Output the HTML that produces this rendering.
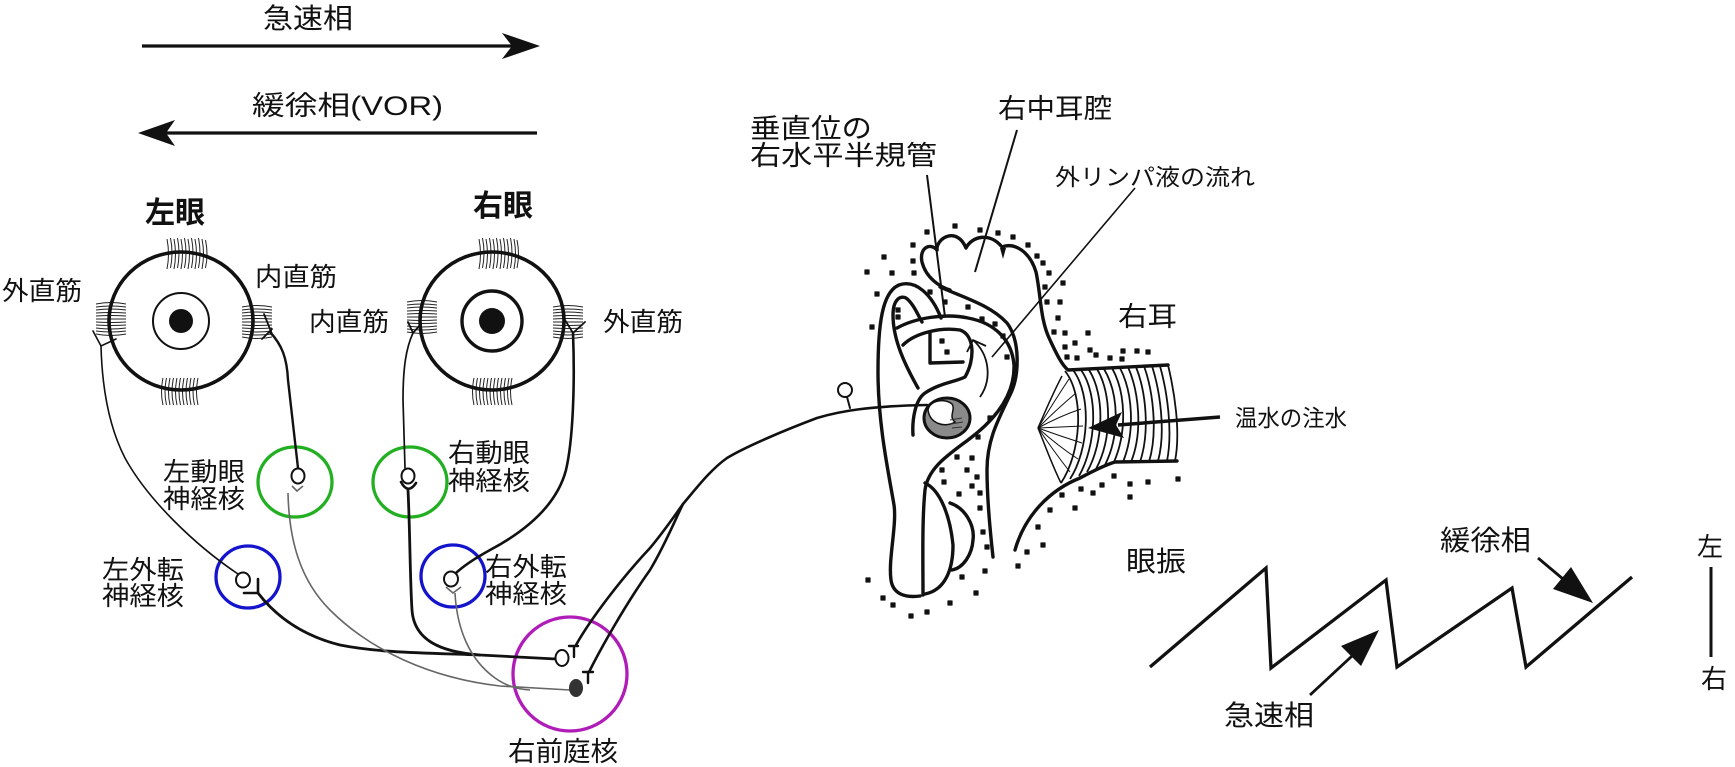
<!DOCTYPE html>
<html><head><meta charset="utf-8"><style>
html,body{margin:0;padding:0;background:#fff;}
svg{display:block;}
text{font-family:"Liberation Sans","Noto Sans CJK JP",sans-serif;fill:#111;}
</style></head><body>
<svg width="1735" height="767" viewBox="0 0 1735 767" xmlns="http://www.w3.org/2000/svg">
<rect width="1735" height="767" fill="#fff"/>

<!-- top arrows -->
<text x="263" y="28" font-size="28" textLength="90" lengthAdjust="spacingAndGlyphs">急速相</text>
<line x1="142" y1="46" x2="512" y2="46" stroke="#111" stroke-width="3.3"/>
<polygon points="540,46 502,33 512,46 502,59" fill="#111"/>
<text x="252" y="115" font-size="27" textLength="191" lengthAdjust="spacingAndGlyphs">緩徐相(VOR)</text>
<line x1="166" y1="133" x2="537" y2="133" stroke="#111" stroke-width="3.3"/>
<polygon points="138,133 175,120 166,133 175,146" fill="#111"/>

<!-- eye labels -->
<text x="145" y="223" font-size="30" font-weight="bold" textLength="60" lengthAdjust="spacingAndGlyphs">左眼</text>
<text x="473" y="216" font-size="30" font-weight="bold" textLength="60" lengthAdjust="spacingAndGlyphs">右眼</text>
<text x="2" y="300" font-size="26" textLength="80" lengthAdjust="spacingAndGlyphs">外直筋</text>
<text x="255" y="286" font-size="26" textLength="82" lengthAdjust="spacingAndGlyphs">内直筋</text>
<text x="309" y="331" font-size="26" textLength="80" lengthAdjust="spacingAndGlyphs">内直筋</text>
<text x="603" y="331" font-size="26" textLength="80" lengthAdjust="spacingAndGlyphs">外直筋</text>

<!-- eyelashes -->
<g stroke="#222" stroke-width="1" fill="none">
<path d="M167,239q3,15 0,30M170.5,238q3,15 0,30M174,239q3,15 0,30M177.5,238q3,15 0,30M181,239q3,15 0,30M184.5,238q3,15 0,30M188,239q3,15 0,30M191.5,238q3,15 0,30M195,239q3,15 0,30M198.5,238q3,15 0,30M202,239q3,15 0,30M205.5,240q3,14 0,28"/>
<path d="M163,378q-3,14 0,27M166.5,378q-3,14 0,27M170,378q-3,14 0,27M173.5,378q-3,14 0,27M177,378q-3,14 0,27M180.5,378q-3,14 0,27M184,378q-3,14 0,27M187.5,378q-3,14 0,27M191,378q-3,14 0,27M194.5,378q-3,14 0,27M198,378q-3,14 0,27"/>
<path d="M96,304q15,-3 30,0M96,307q15,-2 30,0M96,310q15,-2 30,0M96,313q15,-1 30,0M96,316q15,-1 30,0M96,319q15,0 30,0M96,322q15,1 30,0M96,325q15,1 30,0M96,328q15,2 30,0M96,331q15,2 30,0M96,334q15,3 30,0"/>
<path d="M242,307q15,-3 30,0M242,310q15,-2 30,0M242,313q15,-2 30,0M242,316q15,-1 30,0M242,319q15,-1 30,0M242,322q15,0 30,0M242,325q15,1 30,0M242,328q15,1 30,0M242,331q15,2 30,0M242,334q15,2 30,0M242,337q15,3 30,0"/>
<path d="M479,239q3,15 0,30M482.5,238q3,15 0,30M486,239q3,15 0,30M489.5,238q3,15 0,30M493,239q3,15 0,30M496.5,238q3,15 0,30M500,239q3,15 0,30M503.5,238q3,15 0,30M507,239q3,15 0,30M510.5,238q3,15 0,30M514,239q3,15 0,30M517,240q3,14 0,28"/>
<path d="M474,378q-3,14 0,27M477.5,378q-3,14 0,27M481,378q-3,14 0,27M484.5,378q-3,14 0,27M488,378q-3,14 0,27M491.5,378q-3,14 0,27M495,378q-3,14 0,27M498.5,378q-3,14 0,27M502,378q-3,14 0,27M505.5,378q-3,14 0,27M509,378q-3,14 0,27M512,378q-3,14 0,27"/>
<path d="M407,302q15,-3 30,0M407,305q15,-2 30,0M407,308q15,-2 30,0M407,311q15,-1 30,0M407,314q15,-1 30,0M407,317q15,0 30,0M407,320q15,1 30,0M407,323q15,1 30,0M407,326q15,2 30,0M407,329q15,2 30,0M407,332q15,3 30,0"/>
<path d="M553,307q15,-3 30,0M553,310q15,-2 30,0M553,313q15,-2 30,0M553,316q15,-1 30,0M553,319q15,-1 30,0M553,322q15,0 30,0M553,325q15,1 30,0M553,328q15,1 30,0M553,331q15,2 30,0M553,334q15,2 30,0M553,337q15,3 30,0"/>
</g>

<!-- eyes -->
<ellipse cx="181" cy="321" rx="72" ry="69" fill="none" stroke="#111" stroke-width="3.6"/>
<circle cx="181" cy="321" r="28" fill="none" stroke="#111" stroke-width="2"/>
<circle cx="181" cy="321" r="12" fill="#111"/>
<ellipse cx="492" cy="321" rx="72" ry="69" fill="none" stroke="#111" stroke-width="3.6"/>
<circle cx="492" cy="321" r="30" fill="none" stroke="#111" stroke-width="3.4"/>
<circle cx="492" cy="321" r="13" fill="#111"/>

<!-- nuclei circles -->
<ellipse cx="295" cy="482" rx="37" ry="35" fill="none" stroke="#22b022" stroke-width="3.3"/>
<ellipse cx="410" cy="482" rx="37" ry="35" fill="none" stroke="#22b022" stroke-width="3.3"/>
<ellipse cx="248" cy="577" rx="32" ry="31" fill="none" stroke="#1414cc" stroke-width="3.3"/>
<ellipse cx="453" cy="576" rx="32" ry="31" fill="none" stroke="#1414cc" stroke-width="3.3"/>
<circle cx="570" cy="674" r="57" fill="none" stroke="#b01cb8" stroke-width="3.3"/>

<!-- nucleus labels -->
<text x="163" y="481" font-size="26" textLength="82" lengthAdjust="spacingAndGlyphs">左動眼</text>
<text x="163" y="508" font-size="26" textLength="82" lengthAdjust="spacingAndGlyphs">神経核</text>
<text x="448" y="462" font-size="26" textLength="82" lengthAdjust="spacingAndGlyphs">右動眼</text>
<text x="448" y="490" font-size="26" textLength="82" lengthAdjust="spacingAndGlyphs">神経核</text>
<text x="102" y="579" font-size="26" textLength="82" lengthAdjust="spacingAndGlyphs">左外転</text>
<text x="102" y="605" font-size="26" textLength="82" lengthAdjust="spacingAndGlyphs">神経核</text>
<text x="485" y="576" font-size="26" textLength="82" lengthAdjust="spacingAndGlyphs">右外転</text>
<text x="485" y="603" font-size="26" textLength="82" lengthAdjust="spacingAndGlyphs">神経核</text>
<text x="508" y="761" font-size="27" textLength="110" lengthAdjust="spacingAndGlyphs">右前庭核</text>

<!-- nerve lines -->
<g fill="none" stroke="#111" stroke-linecap="round">
<path d="M93,331 L101,346 L116,339" stroke-width="1.6"/>
<path d="M101,346 C102,385 108,425 125,458 C148,500 195,545 238,574" stroke-width="1.6"/>
<path d="M264,314 L272,334 M262,339 L272,329" stroke-width="1.8"/>
<path d="M270,332 C282,345 287,358 288,380 L298,468" stroke-width="2.4"/>
<path d="M408,322 L413,333 L420,325" stroke-width="1.8"/>
<path d="M413,333 C406,348 403,368 403,400 L405,468" stroke-width="1.7"/>
<path d="M565,320 L573,333 L585,322" stroke-width="1.8"/>
<path d="M573,333 C575,385 573,440 566,470 C556,508 522,533 490,550 C472,560 461,568 455,574" stroke-width="2.6"/>
<path d="M408,490 C410,530 410,580 412,610 C414,640 440,652 480,655 L556,659" stroke-width="2.8"/>
<path d="M258,593 C275,615 300,635 340,645 C380,653 430,653 480,655" stroke-width="2.8"/>
<path d="M244,593 L258,593 L258,579" stroke-width="2.6"/>
<path d="M401,482 Q408,495 416,483" stroke-width="2.6"/>
</g>
<g fill="none" stroke="#666" stroke-width="1.6">
<path d="M288,493 C289,540 300,580 330,610 C370,650 430,678 500,686 L570,690"/>
<path d="M455,593 C457,630 470,660 495,678 C505,685 515,689 530,690"/>
<path d="M292,486 L297,491 L303,486"/>
<path d="M446,587 L453,593 L461,587"/>
</g>
<ellipse cx="298" cy="476" rx="6.5" ry="7.5" fill="#fff" stroke="#111" stroke-width="2"/>
<ellipse cx="408" cy="476" rx="6.5" ry="7.5" fill="#fff" stroke="#111" stroke-width="2"/>
<ellipse cx="243" cy="580" rx="7" ry="7.5" fill="#fff" stroke="#111" stroke-width="2"/>
<ellipse cx="451" cy="579" rx="7" ry="7.5" fill="#fff" stroke="#111" stroke-width="2"/>
<ellipse cx="562" cy="658" rx="6.5" ry="8" fill="#fff" stroke="#111" stroke-width="2"/>
<ellipse cx="576" cy="688" rx="7" ry="9" fill="#333"/>

<!-- vestibular nerve to ear -->
<g fill="none" stroke="#111" stroke-width="2.6" stroke-linecap="round">
<path d="M576,645 C590,620 620,580 650,548 C665,530 675,515 683,504"/>
<path d="M589,672 C600,650 625,605 650,570 C665,545 675,520 683,504"/>
<path d="M683,504 C695,490 710,470 727,458 C745,447 785,430 817,418 C840,411 870,406 927,405"/>
<path d="M569,646 L578,646 M574,646 L574,657" stroke-width="2.4"/>
<path d="M583,672 L593,672 M588,672 L588,683" stroke-width="2.4"/>
<path d="M847,397 L850,408" stroke-width="2"/>
</g>
<circle cx="845" cy="390" r="7" fill="#fff" stroke="#111" stroke-width="2"/>

<!-- ear labels -->
<text x="750" y="138" font-size="27" textLength="122" lengthAdjust="spacingAndGlyphs">垂直位の</text>
<text x="750" y="165" font-size="27" textLength="187" lengthAdjust="spacingAndGlyphs">右水平半規管</text>
<text x="998" y="118" font-size="27" textLength="114" lengthAdjust="spacingAndGlyphs">右中耳腔</text>
<text x="1055" y="185" font-size="23" textLength="200" lengthAdjust="spacingAndGlyphs">外リンパ液の流れ</text>
<text x="1118" y="326" font-size="27" textLength="59" lengthAdjust="spacingAndGlyphs">右耳</text>
<text x="1235" y="426" font-size="23" textLength="112" lengthAdjust="spacingAndGlyphs">温水の注水</text>

<!-- leader lines -->
<g stroke="#111" fill="none">
<line x1="927" y1="175" x2="945" y2="317" stroke-width="2"/>
<line x1="1017" y1="130" x2="975" y2="272" stroke-width="2"/>
<line x1="1135" y1="188" x2="992" y2="357" stroke-width="1.6"/>
</g>

<!-- dots -->
<path fill="#111" stroke="#111" stroke-width="1.2" stroke-linejoin="round" d="M865,270h4v4h-4zM882,255h4v4h-4zM890,271h4v4h-4zM875,292h4v4h-4zM870,325h4v4h-4zM911,243h4v4h-4zM911,259h4v4h-4zM912,271h4v4h-4zM925,230h4v4h-4zM953,224h4v4h-4zM978,228h4v4h-4zM996,231h4v4h-4zM1011,235h4v4h-4zM1026,243h4v4h-4zM1035,254h4v4h-4zM1041,261h4v4h-4zM1047,271h4v4h-4zM1061,281h4v4h-4zM1043,285h4v4h-4zM1045,300h4v4h-4zM1058,300h4v4h-4zM896,308h4v4h-4zM896,315h4v4h-4zM928,290h4v4h-4zM943,300h4v4h-4zM966,305h4v4h-4zM980,317h4v4h-4zM993,322h4v4h-4zM1001,334h4v4h-4zM1005,355h4v4h-4zM940,339h4v4h-4zM945,350h4v4h-4zM1056,316h4v4h-4zM1052,330h4v4h-4zM1063,331h4v4h-4zM1073,341h4v4h-4zM1063,345h4v4h-4zM1086,331h4v4h-4zM1088,348h4v4h-4zM1094,353h4v4h-4zM1108,356h4v4h-4zM1120,357h4v4h-4zM1121,349h4v4h-4zM1135,349h4v4h-4zM1146,350h4v4h-4zM1065,355h4v4h-4zM1075,356h4v4h-4zM988,416h4v4h-4zM976,435h4v4h-4zM955,455h4v4h-4zM970,456h4v4h-4zM940,468h4v4h-4zM965,468h4v4h-4zM942,480h4v4h-4zM975,475h4v4h-4zM970,484h4v4h-4zM957,492h4v4h-4zM978,491h4v4h-4zM978,506h4v4h-4zM981,530h4v4h-4zM985,545h4v4h-4zM983,569h4v4h-4zM960,575h4v4h-4zM974,591h4v4h-4zM948,601h4v4h-4zM925,610h4v4h-4zM909,614h4v4h-4zM891,603h4v4h-4zM881,596h4v4h-4zM866,578h4v4h-4zM1176,477h4v4h-4zM1146,480h4v4h-4zM1128,482h4v4h-4zM1112,474h4v4h-4zM1100,483h4v4h-4zM1128,495h4v4h-4zM1091,491h4v4h-4zM1079,487h4v4h-4zM1060,493h4v4h-4zM1073,506h4v4h-4zM1048,508h4v4h-4zM1036,525h4v4h-4zM1041,543h4v4h-4zM1025,550h4v4h-4zM1016,564h4v4h-4z"/>

<!-- ear contours -->
<g fill="none" stroke="#111" stroke-width="3.4" stroke-linecap="round" stroke-linejoin="round">
<path d="M920,596 C905,598 893,594 891,580 C888,560 897,525 894,505 C889,475 878,425 878,372 C878,325 882,292 899,285 C916,279 932,295 941,318"/>
<path d="M897,328 C915,318 945,313 968,318 C995,323 1012,340 1014,365 C1015,395 995,420 968,440 C948,455 928,468 925,490 C922,520 923,560 923,595"/>
<path d="M940,287 C965,298 990,305 1007,323 C1020,340 1020,375 1010,395 C998,420 987,440 987,470 C987,500 990,530 993,557"/>
<path d="M950,290 C940,287 926,278 922,262 C919,248 930,242 937,250"/>
<path d="M937,250 C936,238 957,226 966,248 C972,236 990,232 1002,247 C1015,242 1030,252 1036,272 C1041,295 1040,320 1050,340 C1057,355 1062,365 1068,370 L1168,365"/>
<path d="M918,388 C905,365 893,340 893,315 C893,300 900,295 906,298 C913,303 918,315 922,322"/>
<path d="M903,345 C915,333 940,327 960,330 C975,335 975,360 965,377 C955,382 940,383 925,393 C915,400 912,420 913,435"/>
<path d="M930,333 L930,363 L963,362"/>
<path d="M925,483 C940,490 950,515 953,545 C953,570 945,590 925,594"/>
<path d="M950,503 C965,508 975,525 973,540 C972,555 963,568 952,570"/>
<path d="M1015,550 C1025,515 1050,490 1080,478 C1095,470 1105,465 1115,462 L1177,461"/>
</g>
<polygon points="1000,248 1006,248 1003,259" fill="#111"/>

<!-- cochlea -->
<ellipse cx="947" cy="418" rx="23" ry="20" fill="#8a8a8a" stroke="#111" stroke-width="3"/>
<path d="M928,410 C930,400 945,398 952,404 C956,410 948,416 955,422 C945,428 930,424 928,410 Z" fill="#fff" stroke="#111" stroke-width="1.5"/>
<path d="M950,420 L962,418 M951,424 L963,422 M952,428 L962,427" stroke="#333" stroke-width="1"/>

<!-- flow arrow -->
<path d="M980,397 C992,380 990,355 973,340 M967,352 L973,340 L986,346" fill="none" stroke="#111" stroke-width="1.8"/>

<!-- ear canal ribs -->
<g fill="none" stroke="#111" stroke-width="1.8">
<path d="M1065,371 C1085,396 1081,453 1061,483"/>
<path d="M1073,370 C1092,395 1089,450 1070,479"/>
<path d="M1081,370 C1099,395 1096,446 1079,476"/>
<path d="M1089,370 C1105,395 1104,442 1087,472"/>
<path d="M1097,369 C1112,394 1112,439 1096,469"/>
<path d="M1104,369 C1119,394 1120,435 1105,465"/>
<path d="M1112,368 C1126,393 1127,432 1114,462"/>
<path d="M1120,368 C1133,393 1135,432 1123,462"/>
<path d="M1128,367 C1139,392 1143,432 1131,462"/>
<path d="M1136,367 C1146,392 1150,432 1140,462"/>
<path d="M1144,366 C1153,391 1158,432 1149,462"/>
<path d="M1152,366 C1160,391 1166,432 1158,461"/>
<path d="M1160,366 C1167,391 1173,431 1167,461"/>
<path d="M1168,365 C1174,390 1181,431 1175,461"/>
</g>
<!-- tympanic membrane fan -->
<g fill="none" stroke="#111" stroke-width="1">
<path d="M1038,428 C1045,412 1052,395 1062,376" stroke-width="1.5"/>
<path d="M1038,428 C1045,445 1052,465 1061,483" stroke-width="1.5"/>
<path d="M1038,428 Q1055,400 1069,379"/>
<path d="M1038,428 Q1058,408 1076,393"/>
<path d="M1038,428 Q1060,416 1081,409"/>
<path d="M1038,428 L1083,426"/>
<path d="M1038,428 Q1060,436 1082,443"/>
<path d="M1038,428 Q1058,446 1078,459"/>
<path d="M1038,428 Q1055,453 1070,472"/>
</g>
<!-- warm water arrow -->
<line x1="1220" y1="417" x2="1118" y2="425" stroke="#111" stroke-width="3.5"/>
<polygon points="1088,428 1122,412 1116,425 1124,438" fill="#111"/>

<!-- nystagmus -->
<text x="1126" y="571" font-size="28" textLength="60" lengthAdjust="spacingAndGlyphs">眼振</text>
<polyline points="1150,667 1266,568 1271,668 1386,580 1397,667 1512,588 1526,667 1632,577" fill="none" stroke="#111" stroke-width="3.3" stroke-linejoin="miter"/>
<text x="1224" y="725" font-size="28" textLength="90" lengthAdjust="spacingAndGlyphs">急速相</text>
<line x1="1310" y1="695" x2="1352" y2="656" stroke="#111" stroke-width="2.8"/>
<polygon points="1379,630 1341,646 1361,666" fill="#111"/>
<text x="1440" y="550" font-size="28" textLength="91" lengthAdjust="spacingAndGlyphs">緩徐相</text>
<line x1="1538" y1="558" x2="1563" y2="579" stroke="#111" stroke-width="2.8"/>
<polygon points="1593,603 1553,589 1571,567" fill="#111"/>
<text x="1697" y="556" font-size="26" textLength="26" lengthAdjust="spacingAndGlyphs">左</text>
<line x1="1711" y1="567" x2="1711" y2="657" stroke="#111" stroke-width="3"/>
<text x="1701" y="688" font-size="26" textLength="26" lengthAdjust="spacingAndGlyphs">右</text>
</svg>
</body></html>
